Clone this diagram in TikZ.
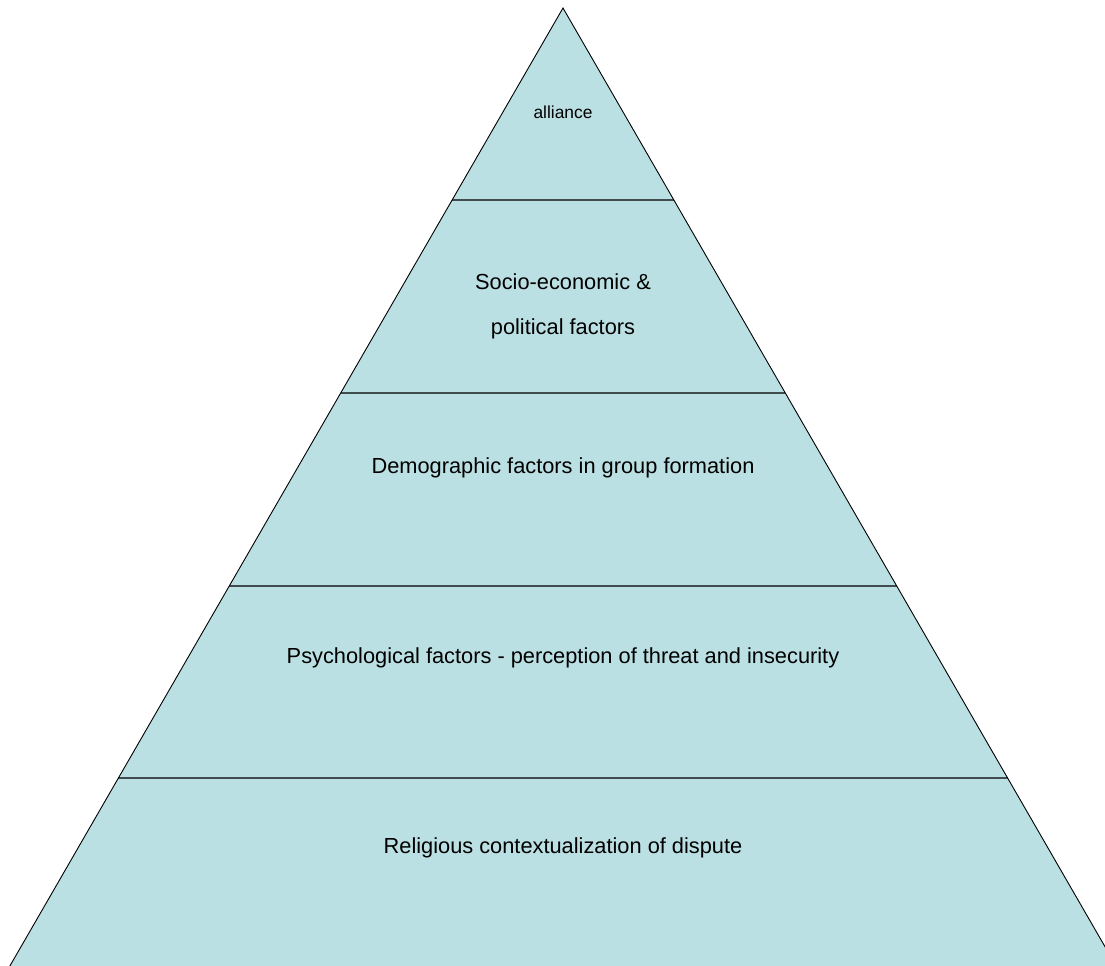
\documentclass[tikz,border=0pt]{standalone}
\usepackage{fontspec}
\setmainfont{Liberation Sans}
\definecolor{pyrfill}{RGB}{187,224,227}
\definecolor{divline}{RGB}{64,76,78}
\tikzset{
  lbl/.style={anchor=base, inner sep=0pt, font=\fontsize{21.8bp}{26bp}\selectfont},
  smalllbl/.style={anchor=base, inner sep=0pt, font=\fontsize{17.4bp}{20bp}\selectfont},
  divider/.style={draw=divline, line width=1.8bp},
}
\begin{document}
\begin{tikzpicture}[x=1bp,y=-1bp]
\useasboundingbox (0,0) rectangle (1105,966);
\clip (0,0) rectangle (1105,966);
% triangle corners (slope dx/dy = 0.5774)
\coordinate (apex) at (563,8);
\coordinate (bl) at ({563-0.5774*963},971);
\coordinate (br) at ({563+0.5774*963},971);
\fill[pyrfill] (apex) -- (bl) -- (br) -- cycle;
% dividers
\foreach \yy/\nm in {200/a,393/b,586/c,778/d}{
  \coordinate (l\nm) at ({563-0.5774*(\yy-8)},\yy);
  \coordinate (r\nm) at ({563+0.5774*(\yy-8)},\yy);
  \draw[divider] (l\nm) -- (r\nm);
}
\draw[black, line width=0.9bp] (bl) -- (apex) -- (br);
% labels
\node[smalllbl] (t1) at (563,118) {alliance};
\node[lbl] (t2a) at (563,289) {Socio-economic \&};
\node[lbl] (t2b) at (563,334) {political factors};
\node[lbl] (t3) at (563,473) {Demographic factors in group formation};
\node[lbl] (t4) at (563,663) {Psychological factors - perception of threat and insecurity};
\node[lbl] (t5) at (563,853) {Religious contextualization of dispute};
\end{tikzpicture}
\end{document}
